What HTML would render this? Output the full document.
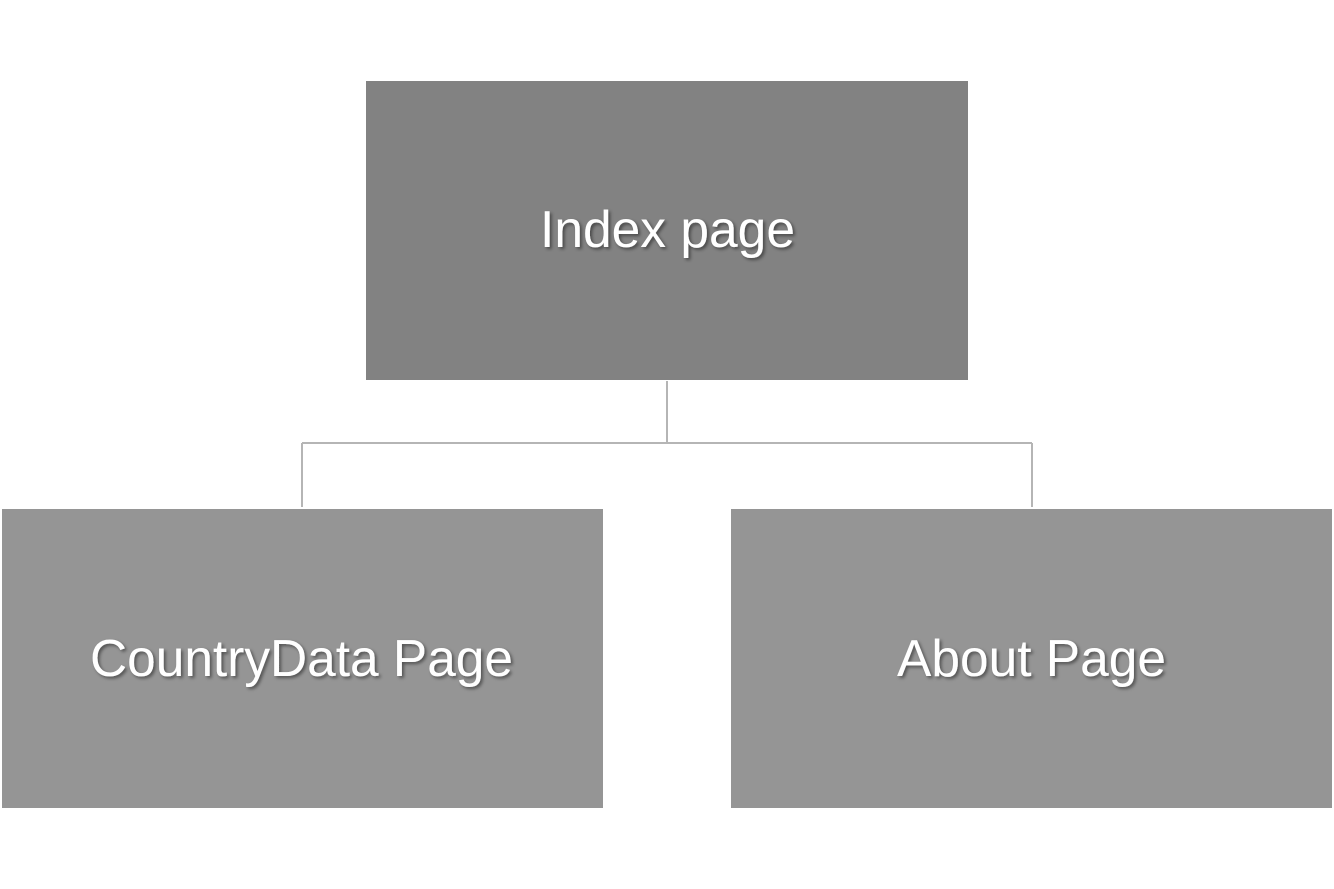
<!DOCTYPE html>
<html><head><meta charset="utf-8"><style>
html,body{margin:0;padding:0;background:#fff;}
svg{display:block}
text{font-family:"Liberation Sans",sans-serif;fill:#fff;font-size:52px;}
</style></head><body>
<svg width="1334" height="889" viewBox="0 0 1334 889" xmlns="http://www.w3.org/2000/svg">
<defs>
<filter id="sh" x="-10%" y="-30%" width="120%" height="160%">
<feDropShadow dx="2" dy="2" stdDeviation="1.5" flood-color="#000" flood-opacity="0.45"/>
</filter>
</defs>
<rect x="366" y="81" width="602" height="299" fill="#828282"/>
<rect x="2" y="509" width="601" height="299" fill="#959595"/>
<rect x="731" y="509" width="601" height="299" fill="#959595"/>
<g stroke="#b5b5b5" stroke-width="2" fill="none">
<path d="M667 381 V443 M302 443 H1032 M302 443 V507 M1032 443 V507"/>
</g>
<g filter="url(#sh)">
<text x="540" y="247" textLength="255" lengthAdjust="spacingAndGlyphs">Index page</text>
<text x="90" y="676" textLength="423" lengthAdjust="spacingAndGlyphs">CountryData Page</text>
<text x="897" y="676" textLength="269" lengthAdjust="spacingAndGlyphs">About Page</text>
</g>
</svg>
</body></html>
